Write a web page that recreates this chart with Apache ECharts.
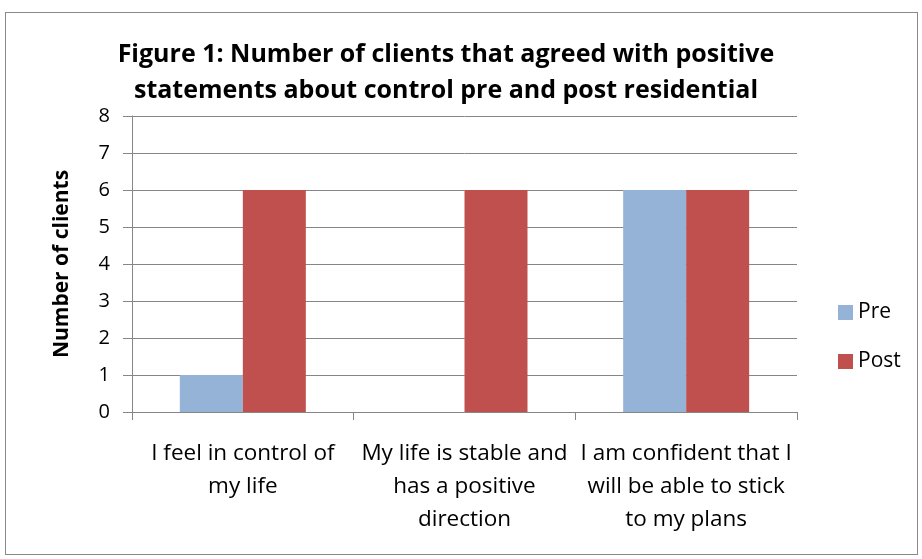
<!DOCTYPE html>
<html>
<head>
<meta charset="utf-8">
<script src="https://cdn.jsdelivr.net/npm/echarts@6/dist/echarts.min.js"></script>
<style>
  html, body { margin: 0; padding: 0; background: #fff; }
  #chart { width: 922px; height: 559px; }
  #frame { position: absolute; left: 5px; top: 12px; width: 911px; height: 541px; border: 1px solid #898989; pointer-events: none; }
</style>
</head>
<body>
<div id="chart"></div>
<div id="frame"></div>
<script>
const categories = [
  'I feel in control of\nmy life',
  'My life is stable and\nhas a positive\ndirection',
  'I am confident that I\nwill be able to stick\nto my plans'
];
const preValues = [1, 0, 6];
const postValues = [6, 6, 6];
const seriesNames = ['Pre', 'Post'];

const font = '"Open Sans", sans-serif';

document.addEventListener('DOMContentLoaded', () => {
  echarts.init(document.querySelector('#chart')).setOption({
    animation: false,
    textStyle: { fontFamily: font },
    title: {
      text: 'Figure 1: Number of clients that agreed with positive\nstatements about control pre and post residential',
      left: 441,
      textAlign: 'center',
      top: 32,
      textStyle: { fontFamily: font, fontSize: 25, fontWeight: 'bold', color: '#000', lineHeight: 36 }
    },
    legend: {
      data: seriesNames,
      orient: 'vertical',
      left: 833,
      top: 297,
      itemWidth: 15,
      itemHeight: 15,
      itemGap: 28,
      icon: 'rect',
      textStyle: { fontFamily: font, fontSize: 21, color: '#000', padding: [0, 0, 0, 0] }
    },
    grid: { left: 132, top: 116, width: 665, height: 296 },
    xAxis: {
      type: 'category',
      data: categories,
      axisLine: { lineStyle: { color: '#868686', width: 1 } },
      axisTick: { show: true, length: 8, alignWithLabel: false, lineStyle: { color: '#868686' } },
      axisLabel: { fontFamily: font, fontSize: 22.5, color: '#000', lineHeight: 33, margin: 25, interval: 0 }
    },
    yAxis: {
      type: 'value',
      min: 0,
      max: 8,
      interval: 1,
      name: 'Number of clients',
      nameLocation: 'middle',
      nameGap: 59,
      nameTextStyle: { fontFamily: font, fontSize: 21, fontWeight: 'bold', color: '#000' },
      axisLine: { show: true, lineStyle: { color: '#868686', width: 1 } },
      axisTick: { show: true, length: 9, lineStyle: { color: '#868686' } },
      axisLabel: { fontFamily: font, fontSize: 20, color: '#000', margin: 22 },
      splitLine: { lineStyle: { color: '#868686', width: 1 } }
    },
    series: [
      {
        name: seriesNames[0],
        type: 'bar',
        data: preValues,
        barWidth: 63,
        barGap: '0%',
        itemStyle: { color: '#95B3D7' }
      },
      {
        name: seriesNames[1],
        type: 'bar',
        data: postValues,
        barWidth: 63,
        barGap: '0%',
        itemStyle: { color: '#C0504D' }
      }
    ]
  });
});
</script>
</body>
</html>
